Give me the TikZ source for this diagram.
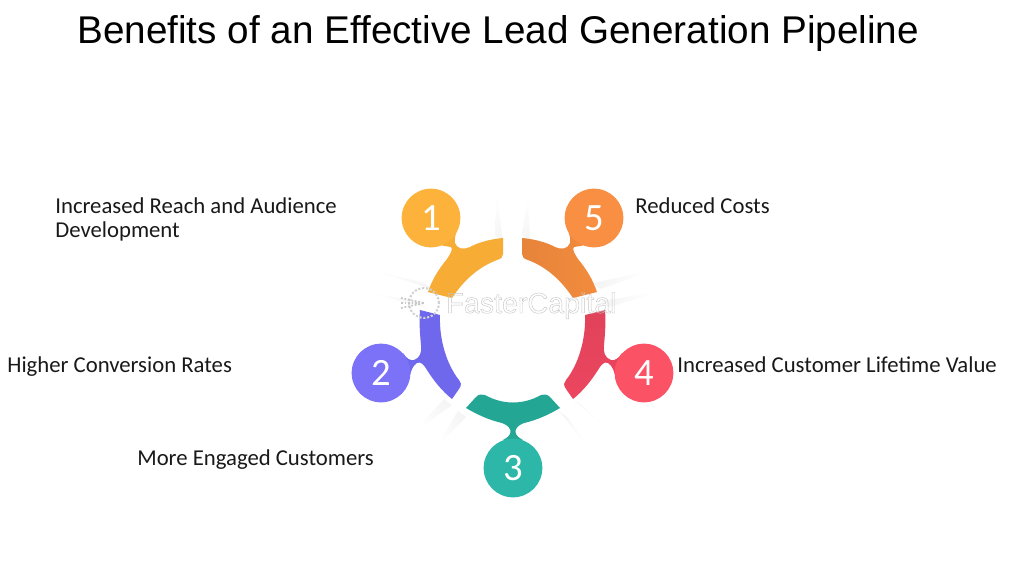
\documentclass[tikz,border=0pt]{standalone}
\usepackage{xcolor}
\usepackage{fontspec}
\setmainfont{Carlito}
\newfontfamily\titlefont{Liberation Sans}
\usetikzlibrary{positioning,calc}
\definecolor{amberDot}{HTML}{FDB33B}
\definecolor{amberArc}{HTML}{F6AC35}
\definecolor{violetDot}{HTML}{7B72F7}
\definecolor{violetArc}{HTML}{6F67EC}
\definecolor{tealDot}{HTML}{2DB7A8}
\definecolor{tealArc}{HTML}{24A695}
\definecolor{roseDot}{HTML}{FB5266}
\definecolor{roseArc}{HTML}{EC465F}
\definecolor{orangeDot}{HTML}{F98F42}
\definecolor{orangeArc}{HTML}{F28B3D}
\tikzset{
  numberDot/.style={
    circle,
    inner sep=0pt,
    minimum size=33.4pt,
    text=white,
    font=\fontsize{22}{22}\selectfont
  },
  benefitLabel/.style={
    anchor=base west,
    inner sep=0pt,
    align=left,
    text=black!90,
    font=\fontsize{12.93}{13.6}\selectfont
  },
  glowLine/.style={
    top color=black!4,
    bottom color=white,
    draw=none
  }
}
\begin{document}
\begin{tikzpicture}[x=0.02cm,y=-0.02cm]
  \useasboundingbox (0,0) rectangle (1024,576);
  \fill[white] (0,0) rectangle (1024,576);

  % faint light streaks in the gaps
  \foreach \tipx/\tipy/\endx/\endy/\turn in {
      499/238/497/195/180, 526/238/528/195/180,
      428/286/372/270/-107, 420/304/366/292/-107,
      597/286/653/270/107, 605/304/659/292/107,
      448/402/414/432/-45, 462/414/436/448/-45,
      577/402/611/432/45, 563/414/589/448/45}
    \shade[glowLine,shading angle=\turn] ($(\tipx,\tipy)+(4,3)$) -- ($(\tipx,\tipy)+(-4,-3)$) -- (\endx,\endy) -- cycle;

  % ring segments
  \fill[amberArc] (503,238) .. controls (490,239) and (477,243) .. (470,247)
    .. controls (464,250) and (457,249) .. (455,243)
    .. controls (454,238) and (456,233) .. (458,228) -- (441,245)
    .. controls (446,247) and (449,246) .. (451,247)
    .. controls (453,249) and (451,253) .. (447,259)
    .. controls (438,270) and (432,280) .. (428,292)
    -- (452,298) .. controls (462,283) and (476,268) .. (497,260)
    .. controls (501,259) and (503,257) .. (503,254) -- cycle;
  \shade[left color=orangeArc!95!black,right color=orangeArc] (522,238) .. controls (535,239) and (548,243) .. (555,247)
    .. controls (561,250) and (568,249) .. (570,243)
    .. controls (571,238) and (569,233) .. (567,228) -- (584,245)
    .. controls (579,247) and (576,246) .. (574,247)
    .. controls (572,249) and (574,253) .. (578,259)
    .. controls (587,270) and (593,280) .. (597,292)
    -- (573,298) .. controls (563,283) and (549,268) .. (528,260)
    .. controls (524,259) and (522,257) .. (522,254) -- cycle;
  \fill[violetArc] (420,310) .. controls (419,322) and (420,335) .. (421,345)
    .. controls (422,352) and (420,358) .. (414,360)
    .. controls (410,361) and (406,358) .. (403,353) -- (409,378)
    .. controls (411,372) and (412,366) .. (417,363)
    .. controls (421,361) and (424,365) .. (427,370)
    .. controls (434,381) and (442,391) .. (452,399)
    -- (459,389) .. controls (462,385) and (461,382) .. (459,380)
    .. controls (447,365) and (439,340) .. (440,315) -- cycle;
  \shade[top color=roseArc!95!black,bottom color=roseArc] (605,310) .. controls (606,322) and (605,335) .. (604,345)
    .. controls (603,352) and (605,358) .. (611,360)
    .. controls (615,361) and (619,358) .. (622,353) -- (616,378)
    .. controls (614,372) and (613,366) .. (608,363)
    .. controls (604,361) and (601,365) .. (598,370)
    .. controls (591,381) and (583,391) .. (573,399)
    -- (566,389) .. controls (563,385) and (564,382) .. (566,380)
    .. controls (578,365) and (586,340) .. (585,315) -- cycle;
  \fill[tealArc] (466,408) -- (476,397) .. controls (479,394) and (482,394) .. (485,395)
    .. controls (503,405) and (523,405) .. (541,395)
    .. controls (544,394) and (547,394) .. (550,397)
    -- (560,408) .. controls (548,415) and (537,420) .. (524,423)
    .. controls (518,425) and (515,429) .. (515.5,432)
    .. controls (515.5,435) and (519,438) .. (523,440) -- (503,440)
    .. controls (507,438) and (510.5,435) .. (510.5,432)
    .. controls (511,429) and (508,425) .. (502,423)
    .. controls (489,420) and (478,415) .. (466,408) -- cycle;

  % numbered dots
  \node[numberDot,fill=amberDot] (dotOne) at (431,218) {1};
  \node[numberDot,fill=violetDot] (dotTwo) at (381,373) {2};
  \node[numberDot,fill=tealDot] (dotThree) at (513,468) {3};
  \node[numberDot,fill=roseDot] (dotFour) at (644,373) {4};
  \node[numberDot,fill=orangeDot] (dotFive) at (594,218) {5};

  % title and labels
  \node[anchor=base west,inner sep=0pt,font=\titlefont\fontsize{22}{24}\selectfont] (title) at (77,43) {Benefits of an Effective Lead Generation Pipeline};
  \node[benefitLabel] (labelOne) at (55,237.5) {Increased Reach and Audience\\Development};
  \node[benefitLabel] (labelTwo) at (7,372.5) {Higher Conversion Rates};
  \node[benefitLabel] (labelThree) at (137,465.5) {More Engaged Customers};
  \node[benefitLabel] (labelFour) at (677,372.5) {Increased Customer Lifetime Value};
  \node[benefitLabel] (labelFive) at (635,213.5) {Reduced Costs};

  % watermark
  \node[circle,draw=black!18,densely dotted,line width=1.2pt,minimum size=17pt,inner sep=0pt] (gear) at (424,303) {};
  \foreach \rowy in {298,303,308}
    \draw[black!22,densely dotted,line width=1pt] (401,\rowy) -- (gear.center);
  \node[anchor=base west,inner sep=0pt,font=\titlefont\fontsize{16.3}{18}\selectfont] (watermark) at (446,313) {\special{pdf:code q 1 Tr 0.25 w 0.78 G}FasterCapital\special{pdf:code Q}};
\end{tikzpicture}
\end{document}
